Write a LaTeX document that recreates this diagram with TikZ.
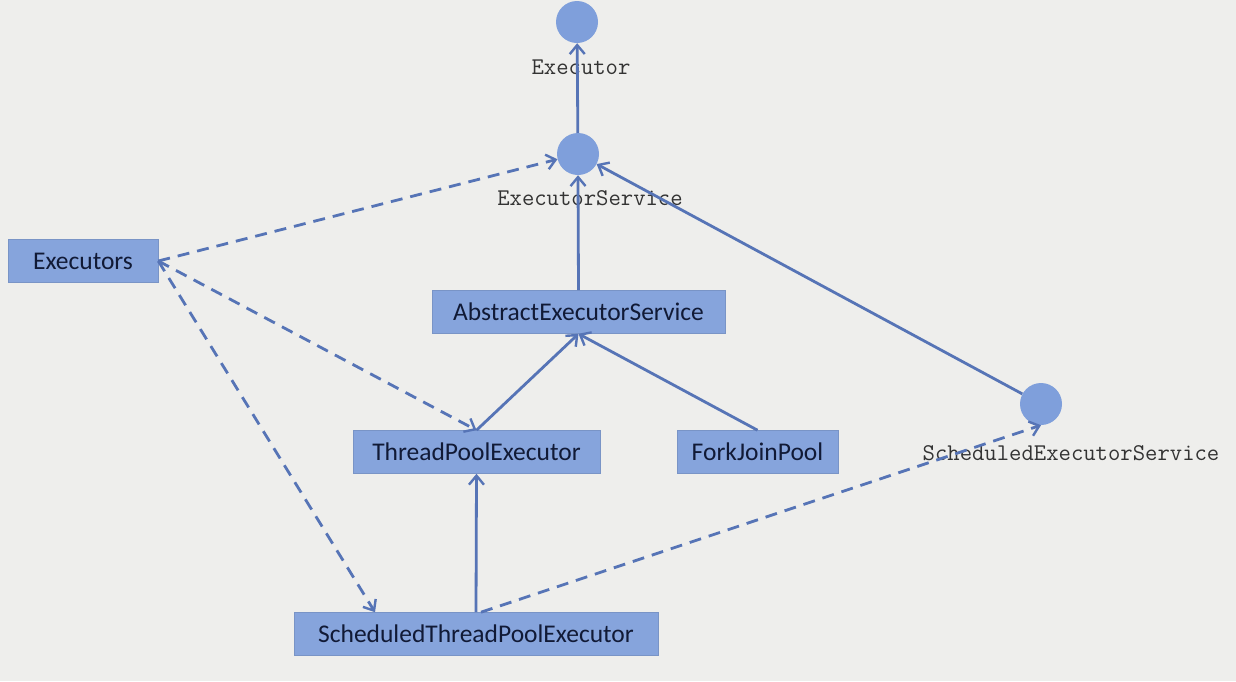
\documentclass[tikz,border=0pt]{standalone}
\usepackage{fontspec}
\setsansfont{Carlito}
\usetikzlibrary{arrows.meta,calc}
\definecolor{bg}{HTML}{EEEEEC}
\definecolor{boxfill}{HTML}{86A4DC}
\definecolor{circfill}{HTML}{7F9FDB}
\definecolor{linec}{HTML}{5674B6}
\definecolor{boxtext}{HTML}{111A36}
\definecolor{labtext}{HTML}{333333}
\tikzset{
  cls/.style={fill=boxfill, draw=boxfill!90!black, line width=0.6pt, minimum height=43pt,
    font=\sffamily\fontsize{25.5}{30}\selectfont, text=boxtext, inner sep=0pt},
  iface/.style={circle, fill=circfill, minimum size=42pt, inner sep=0pt},
  lab/.style={font=\ttfamily\fontsize{24}{28}\selectfont, text=labtext, inner sep=0pt},
  conn/.style={draw=linec, line width=2.8pt, -{Straight Barb[length=9pt,width=15pt,line width=2.4pt]}},
  dep/.style={conn, dash pattern=on 12pt off 8pt},
}
\begin{document}
\begin{tikzpicture}[x=1pt,y=-1pt]
\fill[bg] (0,0) rectangle (1236,681);
\useasboundingbox (0,0) rectangle (1236,681);

\node[iface] (ex) at (577,22) {};
\node[lab] (exl) at (581,67) {Executor};
\node[iface] (es) at (578,154) {};
\node[lab] (esl) at (590,198) {ExecutorService};
\node[iface] (ses) at (1041,404) {};
\node[lab] (sesl) at (1071,453) {ScheduledExecutorService};

\node[cls, minimum width=150pt] (exs) at (83,261) {Executors};
\node[cls, minimum width=293pt] (aes) at (578.5,312) {AbstractExecutorService};
\node[cls, minimum width=247pt] (tpe) at (476.5,452) {ThreadPoolExecutor};
\node[cls, minimum width=161pt] (fjp) at (757.5,452) {ForkJoinPool};
\node[cls, minimum width=364pt] (stpe) at (476,634) {ScheduledThreadPoolExecutor};

\draw[conn] (es) -- (ex);
\draw[conn] (aes.north) -- (es.south);
\draw[conn] (ses) -- (es);
\draw[conn] (tpe.north) -- (aes.south);
\draw[conn] (fjp.north) -- (aes.south);
\draw[conn] (stpe.north) -- (tpe.south);

\draw[dep] (exs.east) -- (es);
\draw[dep] (exs.east) -- (tpe.north);
\draw[dep] (exs.east) -- (stpe.north -| 375,0);
\draw[dep] ($(stpe.north)+(5,0)$) -- (ses.south);
\end{tikzpicture}
\end{document}
